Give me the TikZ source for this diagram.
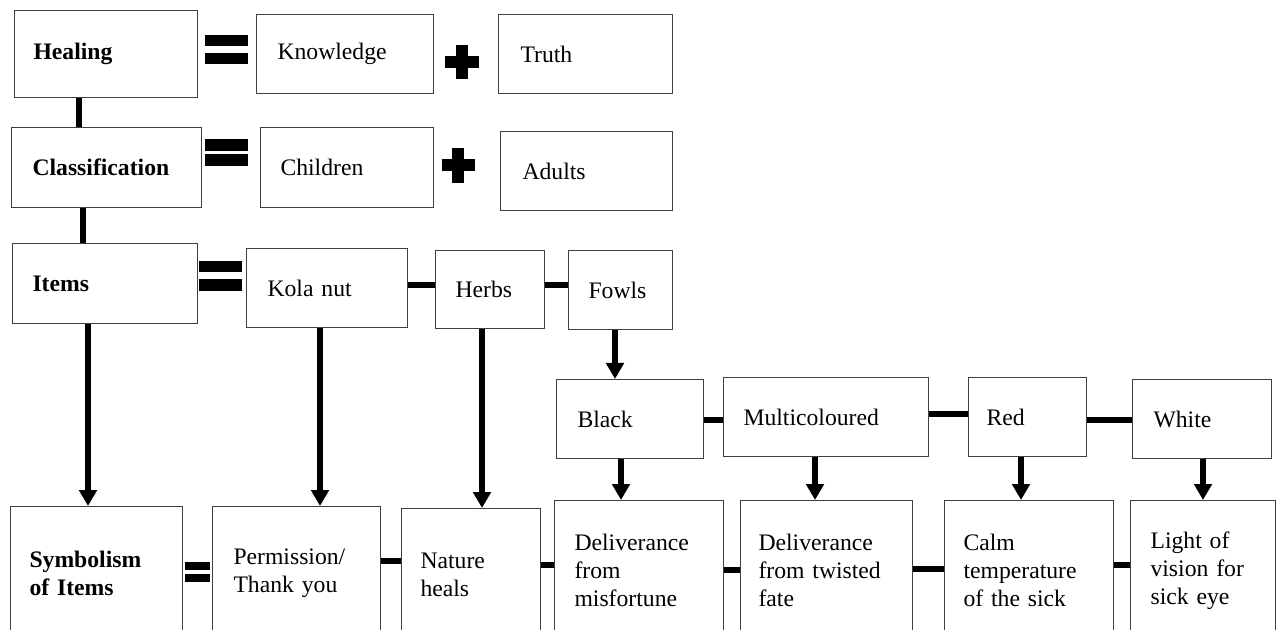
\documentclass[tikz,border=0pt]{standalone}
\usepackage{fontspec}
\setmainfont{Liberation Serif}
\usetikzlibrary{arrows.meta}
\tikzset{
  box/.style={draw=black!75, line width=0.8pt, fill=white, inner ysep=0pt, align=left,
    font=\fontsize{17.75}{21}\selectfont},
  link/.style={line width=4.5pt},
  arr/.style={line width=4.5pt, -{Triangle[width=13pt,length=12pt]}},
  bar/.style={fill=black},
}
% name, x1, y1, x2, y2, left padding, text
\newcommand\bx[7]{%
  \pgfmathsetmacro\bxw{(#4-#2)*0.75}%
  \pgfmathsetmacro\bxh{(#5-#3)*0.75}%
  \pgfmathsetmacro\bxt{(#4-#2-2*#6)*0.75}%
  \pgfmathsetmacro\bxp{#6*0.75}%
  \node[box, anchor=north west, minimum width=\bxw pt, minimum height=\bxh pt,
        text width=\bxt pt, inner xsep=\bxp pt] (#1) at (#2,#3) {#7};}
\begin{document}
\begin{tikzpicture}[x=0.75pt, y=-0.75pt]
\useasboundingbox (0,0) rectangle (1276,630);
\clip (0,0) rectangle (1276,630);
% row 1
\bx{healing}{14}{10}{197}{97}{19}{\textbf{Healing}}
\bx{know}{256}{14}{433}{93}{21}{Knowledge}
\bx{truth}{498}{14}{672}{93}{22}{Truth}
% row 2
\bx{class}{11}{127}{201}{207}{21}{\textbf{Classification}}
\bx{child}{260}{127}{433}{207}{20}{Children}
\bx{adults}{500}{131}{672}{210}{22}{\raisebox{-3pt}{Adults}}
% row 3
\bx{items}{12}{243}{197}{323}{20}{\textbf{Items}}
\bx{kola}{246}{248}{407}{327}{21}{Kola nut}
\bx{herbs}{435}{250}{544}{328}{20}{Herbs}
\bx{fowls}{568}{250}{672}{329}{20}{Fowls}
% row 4
\bx{black}{556}{379}{703}{458}{21}{Black}
\bx{multi}{723}{377}{928}{456}{20}{Multicoloured}
\bx{red}{968}{377}{1086}{456}{18}{Red}
\bx{white}{1132}{379}{1271}{458}{21}{White}
% row 5
\bx{sym}{10}{506}{182}{640}{19}{\textbf{Symbolism}\\\textbf{of Items}}
\bx{perm}{212}{506}{380}{640}{21}{Permission/\\Thank you}
\bx{nature}{401}{508}{540}{640}{19}{Nature\\heals}
\bx{deliv1}{554}{500}{723}{640}{20}{Deliverance\\from\\misfortune}
\bx{deliv2}{740}{500}{912}{640}{18}{Deliverance\\from twisted\\fate}
\bx{calm}{944}{500}{1113}{640}{19}{Calm\\temperature\\of the sick}
\bx{light}{1130}{500}{1275}{640}{20}{Light of\\vision for\\sick eye}
% equals signs
\fill[bar] (205,35) rectangle (248,46);   \fill[bar] (205,53) rectangle (248,64);
\fill[bar] (205,139) rectangle (248,151); \fill[bar] (205,154) rectangle (248,166);
\fill[bar] (199,261) rectangle (242,272); \fill[bar] (199,279) rectangle (242,291);
\fill[bar] (185,562) rectangle (210,570); \fill[bar] (185,574) rectangle (210,582);
% plus signs
\fill[bar] (445,56) rectangle (479,68); \fill[bar] (456,45) rectangle (468,79);
\fill[bar] (442,159) rectangle (475,171); \fill[bar] (452,148) rectangle (464,183);
% vertical links
\draw[link] (healing.south -| 79,0) -- (class.north -| 79,0);
\draw[link] (class.south -| 83,0) -- (items.north -| 83,0);
% horizontal links
\draw[link] (kola.east |- 0,285) -- (herbs.west |- 0,285);
\draw[link] (herbs.east |- 0,285) -- (fowls.west |- 0,285);
\draw[link] (black.east |- 0,420) -- (multi.west |- 0,420);
\draw[link] (multi.east |- 0,414) -- (red.west |- 0,414);
\draw[link] (red.east |- 0,420) -- (white.west |- 0,420);
\draw[link] (perm.east |- 0,561) -- (nature.west |- 0,561);
\draw[link] (nature.east |- 0,565) -- (deliv1.west |- 0,565);
\draw[link] (deliv1.east |- 0,570) -- (deliv2.west |- 0,570);
\draw[link] (deliv2.east |- 0,569) -- (calm.west |- 0,569);
\draw[link] (calm.east |- 0,565) -- (light.west |- 0,565);
% arrows
\draw[arr] (items.south -| 88,0) -- (sym.north -| 88,0);
\draw[arr] (kola.south -| 320,0) -- (perm.north -| 320,0);
\draw[arr] (herbs.south -| 482,0) -- (nature.north -| 482,0);
\draw[arr] (fowls.south -| 615,0) -- (black.north -| 615,0);
\draw[arr] (black.south -| 621,0) -- (deliv1.north -| 621,0);
\draw[arr] (multi.south -| 815,0) -- (deliv2.north -| 815,0);
\draw[arr] (red.south -| 1021,0) -- (calm.north -| 1021,0);
\draw[arr] (white.south -| 1203,0) -- (light.north -| 1203,0);
\end{tikzpicture}
\end{document}
